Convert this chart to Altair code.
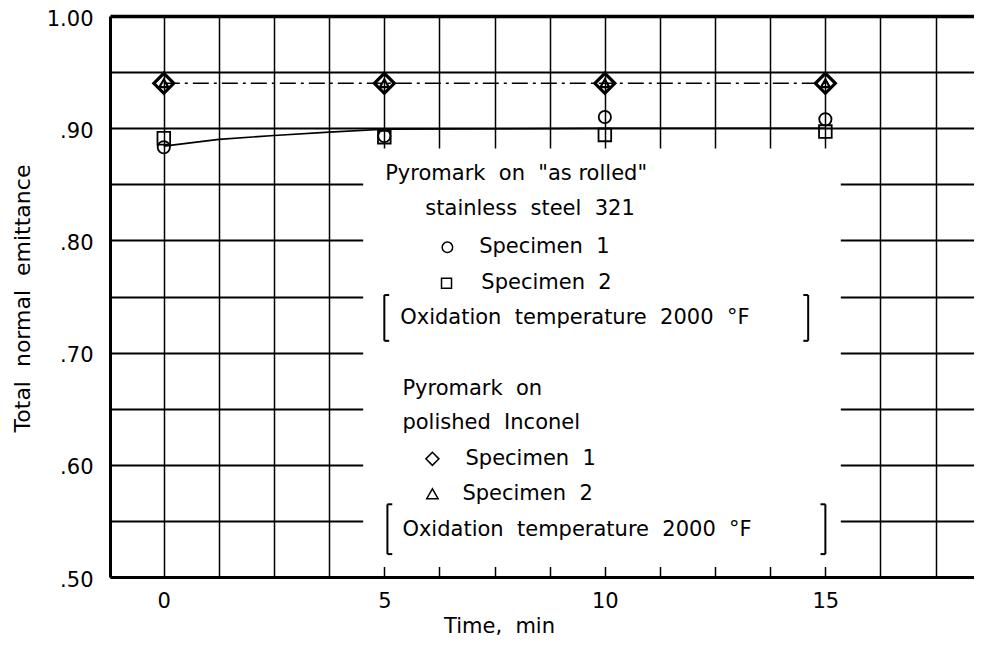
import altair as alt
import pandas as pd

# ---------------- data ----------------
time = [0, 5, 10, 15]
ss_specimen1 = [0.883, 0.893, 0.910, 0.908]   # circles  (Pyromark on stainless steel 321)
ss_specimen2 = [0.891, 0.892, 0.894, 0.897]   # squares
inc_specimen1 = [0.940, 0.940, 0.940, 0.940]  # diamonds (Pyromark on polished Inconel)
inc_specimen2 = [0.940, 0.940, 0.940, 0.940]  # triangles

fit_ss_time = [0, 1.25, 2.5, 3.75, 5, 10, 15]
fit_ss_value = [0.884, 0.890, 0.8935, 0.8965, 0.899, 0.900, 0.900]
fit_inc_time = [0, 15]
fit_inc_value = [0.940, 0.940]

x_grid = [-1.25, 0, 1.25, 2.5, 3.75, 5, 6.25, 7.5, 8.75, 10, 11.25, 12.5, 13.75, 15, 16.25, 17.5]
y_grid = [0.50, 0.55, 0.60, 0.65, 0.70, 0.75, 0.80, 0.85, 0.90, 0.95, 1.00]

SP = "\u00a0 "  # wide word gap as in the hand lettering
legend_lines = [
    "Pyromark" + SP + "on" + SP + "\"as\u00a0rolled\"",
    "stainless" + SP + "steel" + SP + "321",
    "Specimen" + SP + "1",
    "Specimen" + SP + "2",
    "Oxidation" + SP + "temperature" + SP + "2000" + SP + "°F",
    "Pyromark" + SP + "on",
    "polished" + SP + "Inconel",
    "Specimen" + SP + "1",
    "Specimen" + SP + "2",
    "Oxidation" + SP + "temperature" + SP + "2000" + SP + "°F",
]
legend_x = [5.02, 5.93, 7.15, 7.20, 5.36, 5.41, 5.41, 6.84, 6.77, 5.41]
legend_y = [0.8588, 0.8277, 0.7938, 0.7618, 0.7305, 0.6675, 0.6373, 0.6053, 0.5742, 0.5417]

legend_sym_shape = ["circle", "square", "diamond", "triangle-up"]
legend_sym_x = [6.43, 6.41, 6.09, 6.09]
legend_sym_y = [0.7938, 0.7618, 0.6053, 0.5742]
legend_sym_size = [110, 100, 170, 130]

# brackets: x, top, bottom, serif direction
bracket_x = [5.00, 14.61, 5.07, 15.00]
bracket_top = [0.7513, 0.7513, 0.5648, 0.5648]
bracket_bottom = [0.7105, 0.7105, 0.5204, 0.5204]
bracket_dir = [1, -1, 1, -1]

box_x = [4.52, 15.35]
box_y = [0.509, 0.882]

FONT = "DejaVu Sans"

# ---------------- tables ----------------
pts = pd.DataFrame({
    "time": time * 4,
    "value": ss_specimen1 + ss_specimen2 + inc_specimen1 + inc_specimen2,
    "shape": ["circle"] * 4 + ["square"] * 4 + ["diamond"] * 4 + ["triangle-up"] * 4,
    "size": [150] * 4 + [160] * 4 + [400] * 4 + [80] * 4,
    "sw": [1.8] * 4 + [1.8] * 4 + [3.2] * 4 + [2.2] * 4,
})
fit_ss = pd.DataFrame({"time": fit_ss_time, "value": fit_ss_value})
fit_inc = pd.DataFrame({"time": fit_inc_time, "value": fit_inc_value})
leg_text = pd.DataFrame({"x": legend_x, "y": legend_y, "t": legend_lines})
leg_sym = pd.DataFrame({"x": legend_sym_x, "y": legend_sym_y,
                        "shape": legend_sym_shape, "size": legend_sym_size})

seg_rows = []
for bx, bt, bb, d in zip(bracket_x, bracket_top, bracket_bottom, bracket_dir):
    seg_rows.append({"x": bx, "x2": bx, "y": bt, "y2": bb})
    seg_rows.append({"x": bx, "x2": bx + 0.11 * d, "y": bt, "y2": bt})
    seg_rows.append({"x": bx, "x2": bx + 0.11 * d, "y": bb, "y2": bb})
brackets = pd.DataFrame(seg_rows)
box = pd.DataFrame({"x": [box_x[0]], "x2": [box_x[1]], "y": [box_y[0]], "y2": [box_y[1]]})

xscale = alt.Scale(domain=[-1.22, 18.37], nice=False, zero=False)
yscale = alt.Scale(domain=[0.5, 1.0], nice=False, zero=False)

x_axis = alt.Axis(
    values=x_grid, grid=True, gridColor="black", gridWidth=1.5, gridOpacity=1,
    ticks=False, domainColor="black", domainWidth=3,
    labelExpr="datum.value % 5 === 0 ? toString(datum.value) : ''",
    labelOverlap=False, labelFlush=False, labelFont=FONT, labelFontSize=21,
    labelColor="black", labelPadding=13,
    title="Time,\u00a0 min", titleFont=FONT, titleFontSize=21, titleFontWeight="normal",
    titleColor="black", titleX=389, titleY=55, titleBaseline="alphabetic",
)
y_axis = alt.Axis(
    values=y_grid, grid=True, gridColor="black", gridOpacity=1,
    gridWidth={"condition": {"test": "datum.value >= 0.999", "value": 3.5}, "value": 2},
    ticks=False, domainColor="black", domainWidth=3,
    labelExpr="round(datum.value*100) % 10 === 0 ? (datum.value >= 0.999 ? '1.00' : '.' + toString(round(datum.value*100))) : ''",
    labelOverlap=False, labelFlush=False, labelFont=FONT, labelFontSize=21,
    labelColor="black", labelPadding=17, labelOffset=3,
    title="Total\u00a0 normal\u00a0 emittance", titleFont=FONT, titleFontSize=22,
    titleFontWeight="normal", titleColor="black", titleX=-88, titleY=282,
    titleBaseline="middle", titleAlign="center", titleAngle=270,
)

rect = alt.Chart(box).mark_rect(color="white").encode(
    x=alt.X("x:Q", scale=xscale, axis=x_axis),
    x2="x2:Q",
    y=alt.Y("y:Q", scale=yscale, axis=y_axis),
    y2="y2:Q",
)

line_ss = alt.Chart(fit_ss).mark_line(color="black", strokeWidth=1.6).encode(
    x="time:Q", y="value:Q")
line_inc = alt.Chart(fit_inc).mark_line(color="black", strokeWidth=1.6,
                                        strokeDash=[16, 5, 3, 5]).encode(
    x="time:Q", y="value:Q")

points = alt.Chart(pts).mark_point(filled=False, color="black", opacity=1).encode(
    x="time:Q", y="value:Q",
    shape=alt.Shape("shape:N", scale=None),
    size=alt.Size("size:Q", scale=None),
    strokeWidth=alt.StrokeWidth("sw:Q", scale=None),
)

brk = alt.Chart(brackets).mark_rule(color="black", strokeWidth=2).encode(
    x="x:Q", x2="x2:Q", y="y:Q", y2="y2:Q")

texts = alt.Chart(leg_text).mark_text(
    align="left", baseline="middle", font=FONT, fontSize=21, color="black"
).encode(x="x:Q", y="y:Q", text="t:N")

syms = alt.Chart(leg_sym).mark_point(filled=False, color="black", opacity=1,
                                      strokeWidth=1.5).encode(
    x="x:Q", y="y:Q",
    shape=alt.Shape("shape:N", scale=None),
    size=alt.Size("size:Q", scale=None),
)

chart = alt.layer(rect, line_ss, line_inc, points, brk, texts, syms).properties(
    width=864, height=561,
    padding={"left": 102, "top": 8, "right": 0, "bottom": 60},
    autosize=alt.AutoSizeParams(type="none"),
).configure_view(stroke=None).configure(background="white")

chart.save("out.html", embed_options={"renderer": "svg", "actions": False})
